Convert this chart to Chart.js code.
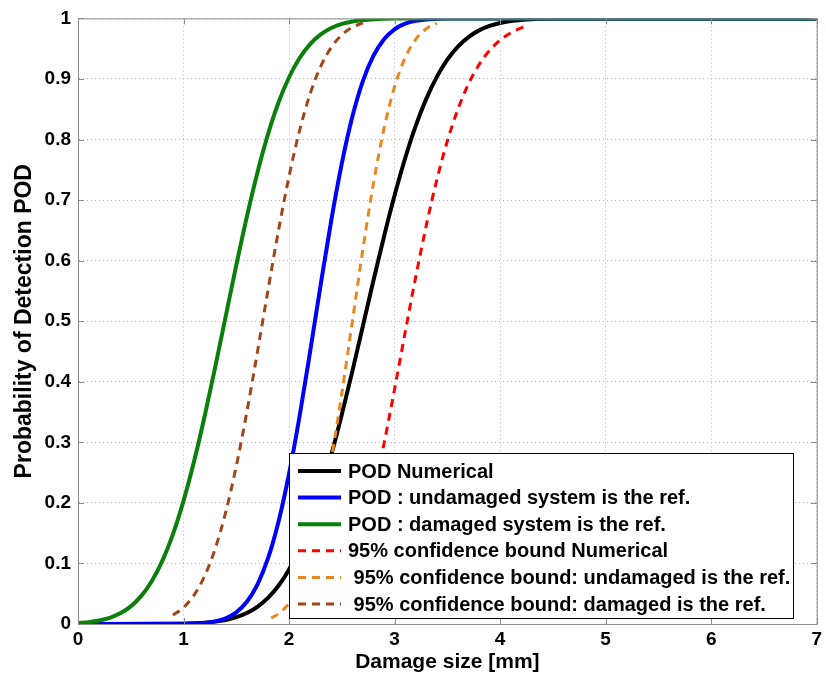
<!DOCTYPE html>
<html>
<head>
<meta charset="utf-8">
<script src="https://cdn.jsdelivr.net/npm/chart.js@4.4.1/dist/chart.umd.min.js"></script>
<style>
  html, body { margin: 0; padding: 0; background: #fff; overflow: hidden; }
  canvas { display: block; }
</style>
</head>
<body>
<canvas id="podChart" width="826" height="678"></canvas>
<script>
'use strict';

// --- data ---
const seriesLabels = [
    'POD Numerical',
    'POD : undamaged system is the ref.',
    'POD : damaged system is the ref.',
    '95% confidence bound Numerical',
    ' 95% confidence bound: undamaged is the ref.',
    ' 95% confidence bound: damaged is the ref.'
];

// POD Numerical (black)
const numX = [0, 1.0, 1.1, 1.2, 1.3, 1.4, 1.5, 1.6, 1.7, 1.8, 1.9, 2.0, 2.1, 2.2, 2.3, 2.4, 2.5, 2.6, 2.7, 2.8, 2.9, 3.0,
              3.1, 3.2, 3.3, 3.4, 3.5, 3.6, 3.7, 3.8, 3.9, 4.0, 4.1, 4.2, 4.3, 4.4, 4.5, 7];
const numY = [0, 0.0006, 0.0012, 0.0022, 0.0039, 0.0067, 0.0112, 0.0181, 0.0283, 0.043, 0.0632, 0.0901, 0.1249, 0.168,
              0.2195, 0.2793, 0.346, 0.4176, 0.4924, 0.5675, 0.64, 0.7079, 0.7691, 0.8225, 0.8671, 0.9035, 0.932,
              0.9534, 0.9691, 0.9802, 0.9876, 0.9925, 0.9956, 0.9975, 0.9987, 0.9993, 0.9997, 1];

// POD undamaged system is the ref. (blue)
const undX = [0, 1.0, 1.1, 1.2, 1.3, 1.4, 1.5, 1.6, 1.7, 1.8, 1.9, 2.0, 2.1, 2.2, 2.3, 2.4, 2.5, 2.6, 2.7, 2.8, 2.9,
              3.0, 3.1, 3.2, 3.3, 3.4, 3.5, 7];
const undY = [0, 0.0003, 0.0007, 0.0018, 0.0043, 0.0095, 0.0193, 0.0366, 0.065, 0.1082, 0.169, 0.2481, 0.3435, 0.4503,
              0.5607, 0.6666, 0.7606, 0.838, 0.8969, 0.9384, 0.9656, 0.982, 0.9912, 0.996, 0.9983, 0.9993, 0.9998, 1];

// POD damaged system is the ref. (green)
const damX = [0, 0.1, 0.2, 0.3, 0.4, 0.5, 0.6, 0.7, 0.8, 0.9, 1.0, 1.1, 1.2, 1.3, 1.4, 1.5, 1.6, 1.7, 1.8, 1.9, 2.0,
              2.1, 2.2, 2.3, 2.4, 2.5, 2.6, 2.7, 2.8, 2.9, 3.0, 7];
const damY = [0.0016, 0.003, 0.0057, 0.0102, 0.0176, 0.0291, 0.0464, 0.071, 0.1047, 0.1485, 0.2033, 0.2686, 0.3431,
              0.4242, 0.5085, 0.5925, 0.6725, 0.7453, 0.8085, 0.8611, 0.9028, 0.9346, 0.9576, 0.9736, 0.9842, 0.9909,
              0.995, 0.9973, 0.9987, 0.9994, 0.9997, 1];

// 95% bound Numerical (red dashed), lower end sits behind the legend
const ciNumX = [2.4, 2.5, 2.6, 2.7, 2.8, 2.9, 3.0, 3.1, 3.2, 3.3, 3.4, 3.5, 3.6, 3.7, 3.8, 3.9, 4.0, 4.1, 4.2, 4.25];
const ciNumY = [0.0287, 0.0542, 0.0932, 0.1476, 0.2165, 0.2981, 0.3882, 0.4816, 0.573, 0.658, 0.7334,
                0.7976, 0.8501, 0.8918, 0.9235, 0.9471, 0.9641, 0.9761, 0.9844, 0.9875];

// 95% bound undamaged is the ref. (orange dashed)
const ciUndX = [1.83, 1.9, 2.0, 2.1, 2.2, 2.3, 2.4, 2.5, 2.6, 2.7, 2.8, 2.9, 3.0, 3.1, 3.2, 3.3, 3.4];
const ciUndY = [0.0098, 0.017, 0.0345, 0.0649, 0.1128, 0.1817, 0.2723, 0.381, 0.5, 0.619, 0.7277, 0.8183, 0.8872,
                0.9351, 0.9655, 0.983, 0.9923];

// 95% bound damaged is the ref. (brown dashed)
const ciDamX = [0.9, 1.0, 1.1, 1.2, 1.3, 1.4, 1.5, 1.6, 1.7, 1.8, 1.9, 2.0, 2.1, 2.2, 2.3, 2.4, 2.5, 2.6, 2.7];
const ciDamY = [0.0147, 0.0272, 0.0478, 0.0793, 0.1243, 0.1848, 0.2608, 0.3501, 0.449, 0.551, 0.6499, 0.7392, 0.8152,
                0.8757, 0.9207, 0.9522, 0.9728, 0.9853, 0.9926];

const xTickLabels = ['0', '1', '2', '3', '4', '5', '6', '7'];
const yTickLabels = ['0', '0.1', '0.2', '0.3', '0.4', '0.5', '0.6', '0.7', '0.8', '0.9', '1'];

const FONT = '"Liberation Sans", Arial, sans-serif';
const AXIS_GREY = '#8c8c8c';

function toPoints(xs, ys) {
    return xs.map((x, i) => ({ x: x, y: ys[i] }));
}

function makeSeries(i, xs, ys, color, dashed) {
    return {
        label: seriesLabels[i],
        data: toPoints(xs, ys),
        borderColor: color,
        backgroundColor: color,
        borderWidth: dashed ? 3 : 4,
        borderDash: dashed ? [8, 6] : [],
        pointRadius: 0,
        fill: false,
        cubicInterpolationMode: 'monotone',
        order: 6 - i   // later series on top, like the original plot
    };
}

// box around the plot and inward tick marks
const axesBox = {
    id: 'axesBox',
    afterDatasetsDraw(chart) {
        const { ctx, chartArea: a, scales } = chart;
        ctx.save();
        ctx.strokeStyle = AXIS_GREY;
        ctx.lineWidth = 1;
        ctx.strokeRect(a.left + 0.5, a.top + 0.5, a.right - a.left, a.bottom - a.top);
        ctx.beginPath();
        scales.x.ticks.forEach(t => {
            const px = Math.round(scales.x.getPixelForValue(t.value)) + 0.5;
            ctx.moveTo(px, a.bottom); ctx.lineTo(px, a.bottom - 6);
            ctx.moveTo(px, a.top); ctx.lineTo(px, a.top + 6);
        });
        scales.y.ticks.forEach(t => {
            const py = Math.round(scales.y.getPixelForValue(t.value)) + 0.5;
            ctx.moveTo(a.left, py); ctx.lineTo(a.left + 6, py);
            ctx.moveTo(a.right, py); ctx.lineTo(a.right - 6, py);
        });
        ctx.stroke();
        ctx.restore();
    }
};

// boxed legend sitting inside the plot, lower right
const boxLegend = {
    id: 'boxLegend',
    afterDraw(chart) {
        const ctx = chart.ctx;
        const x0 = 289, y0 = 453, w = 504, h = 165;
        ctx.save();
        ctx.fillStyle = '#fff';
        ctx.fillRect(x0, y0, w, h);
        ctx.strokeStyle = '#000';
        ctx.lineWidth = 1;
        ctx.strokeRect(x0 + 0.5, y0 + 0.5, w, h);
        ctx.font = 'bold 20px ' + FONT;
        ctx.textBaseline = 'middle';
        chart.data.datasets.forEach((ds, i) => {
            const y = y0 + 18 + i * 26.6;
            ctx.strokeStyle = ds.borderColor;
            ctx.lineWidth = ds.borderWidth;
            ctx.setLineDash(ds.borderDash);
            ctx.beginPath();
            ctx.moveTo(x0 + 9, y);
            ctx.lineTo(x0 + 52, y);
            ctx.stroke();
            ctx.setLineDash([]);
            ctx.fillStyle = '#000';
            ctx.fillText(ds.label, x0 + 59, y + 1);
        });
        ctx.restore();
    }
};

const ctx = document.getElementById('podChart').getContext('2d');
new Chart(ctx, {
    type: 'line',
    data: {
        datasets: [
            makeSeries(0, numX, numY, '#000000', false),
            makeSeries(1, undX, undY, '#0000ff', false),
            makeSeries(2, damX, damY, '#0a800a', false),
            makeSeries(3, ciNumX, ciNumY, '#ff0000', true),
            makeSeries(4, ciUndX, ciUndY, '#e8871e', true),
            makeSeries(5, ciDamX, ciDamY, '#a0461a', true)
        ]
    },
    options: {
        responsive: false,
        animation: false,
        layout: { padding: { top: 18, right: 0, left: 0, bottom: 0 } },
        plugins: {
            legend: { display: false },
            tooltip: { enabled: false }
        },
        scales: {
            x: {
                type: 'linear',
                min: 0, max: 7,
                afterFit(scale) { scale.height = 54; },
                ticks: {
                    stepSize: 1,
                    color: '#000',
                    padding: 4,
                    font: { family: FONT, size: 19, weight: 'bold' },
                    callback: (v) => xTickLabels[v]
                },
                grid: { color: '#b4b4b4', drawTicks: false },
                border: { display: true, color: AXIS_GREY, dash: [1, 3] },
                title: {
                    display: true,
                    text: 'Damage size [mm]',
                    color: '#000',
                    font: { family: FONT, size: 21, weight: 'bold' },
                    padding: { top: 0, bottom: 3 }
                }
            },
            y: {
                min: 0, max: 1,
                afterFit(scale) { scale.width = 78; },
                ticks: {
                    stepSize: 0.1,
                    color: '#000',
                    padding: 7,
                    font: { family: FONT, size: 19, weight: 'bold' },
                    callback: (v) => yTickLabels[Math.round(v * 10)]
                },
                grid: { color: '#b4b4b4', drawTicks: false },
                border: { display: true, color: AXIS_GREY, dash: [1, 3] },
                title: {
                    display: true,
                    text: 'Probability of Detection POD',
                    color: '#000',
                    font: { family: FONT, size: 23, weight: 'bold' },
                    padding: { top: 11, bottom: 0 }
                }
            }
        }
    },
    plugins: [axesBox, boxLegend]
});
</script>
</body>
</html>
